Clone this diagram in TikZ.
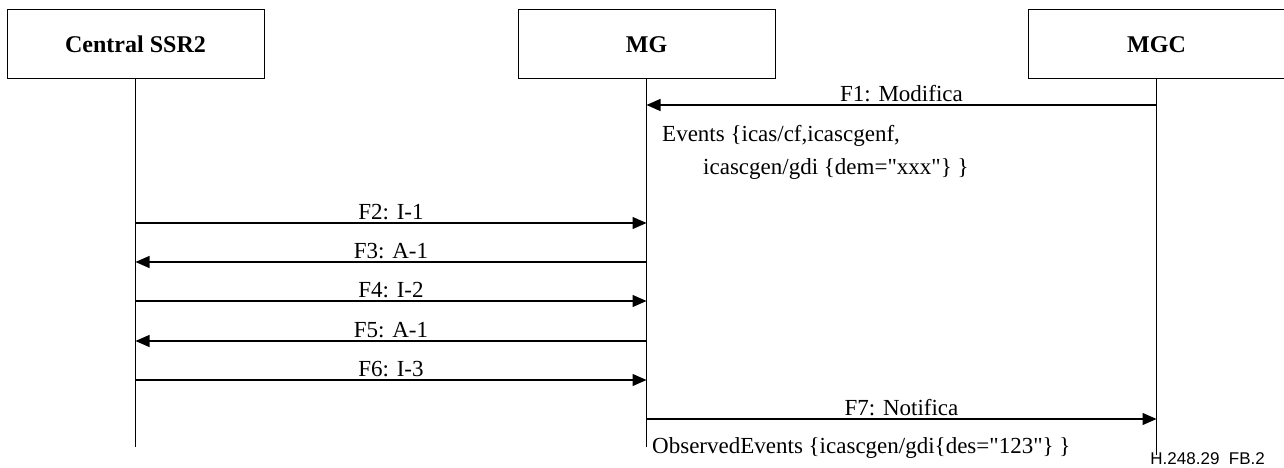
\documentclass[tikz,border=0pt]{standalone}
\usepackage{fontspec}
\setmainfont{Liberation Serif}
\setsansfont{Liberation Sans}
\newfontfamily\msgfont{Liberation Serif}
\usetikzlibrary{arrows.meta,positioning}

\begin{document}
\begin{tikzpicture}[x=1pt,y=-1pt,
    entity/.style={draw,line width=1pt,minimum width=257pt,minimum height=69pt,
      font=\fontsize{24}{28}\selectfont\bfseries},
    lifeline/.style={line width=1pt},
    msg/.style={line width=1.2pt,-{Triangle[length=14pt,width=12pt]}},
    msglabel/.style={midway,above,inner sep=3pt,font=\msgfont\fontsize{23}{27}\selectfont},
    note/.style={anchor=base west,inner sep=0pt,font=\msgfont\fontsize{23}{27}\selectfont}]
  \useasboundingbox (0,0) rectangle (1284,468);
  % the three entities
  \node[entity] (ssr) at (135.5,44.5) {Central SSR2};
  \node[entity] (mg)  at (646.5,44.5) {MG};
  \node[entity] (mgc) at (1156.5,44.5) {MGC};
  \coordinate (lend) at (0,447);
  \draw[lifeline] (ssr.south) -- (ssr.south |- lend);
  \draw[lifeline] (mg.south) -- (mg.south |- lend);
  \draw[lifeline] (mgc.south) -- (mgc.south |- 0,455);
  % message rows
  \coordinate (r1) at (0,105);
  \coordinate (r2) at (0,223);
  \coordinate (r3) at (0,262);
  \coordinate (r4) at (0,301);
  \coordinate (r5) at (0,341);
  \coordinate (r6) at (0,380);
  \coordinate (r7) at (0,419);
  \draw[msg] (mgc.south |- r1) -- (mg.south |- r1) node[msglabel]{F1: Modifica};
  \node[note] (ev1) at (662,141) {Events \{icas/cf,icascgenf,};
  \node[note] (ev2) at (703,174) {icascgen/gdi \{dem="xxx"\} \}};
  \draw[msg] (ssr.south |- r2) -- (mg.south |- r2) node[msglabel]{F2: I-1};
  \draw[msg] (mg.south |- r3) -- (ssr.south |- r3) node[msglabel]{F3: A-1};
  \draw[msg] (ssr.south |- r4) -- (mg.south |- r4) node[msglabel]{F4: I-2};
  \draw[msg] (mg.south |- r5) -- (ssr.south |- r5) node[msglabel]{F5: A-1};
  \draw[msg] (ssr.south |- r6) -- (mg.south |- r6) node[msglabel]{F6: I-3};
  \draw[msg] (mg.south |- r7) -- (mgc.south |- r7) node[msglabel]{F7: Notifica};
  \node[note] (obs) at (652,453) {ObservedEvents \{icascgen/gdi\{des="123"\} \}};
  \node[anchor=base east,inner sep=0pt,font=\sffamily\fontsize{17}{20}\selectfont] (fig) at (1265,464) {H.248.29~~FB.2};
\end{tikzpicture}
\end{document}
